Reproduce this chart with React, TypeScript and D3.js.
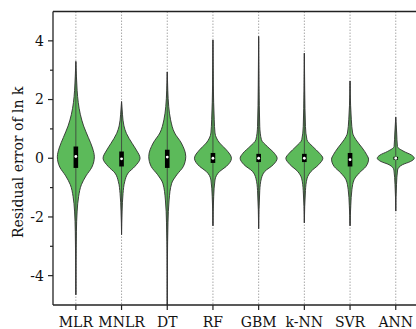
import React from "react";
import * as d3 from "d3";

const categories = ["MLR", "MNLR", "DT", "RF", "GBM", "k-NN", "SVR", "ANN"];
const yTicks = [-4, -2, 0, 2, 4];
const yMinorTicks = [-3, -1, 1, 3];

// Violin profiles: [residual value, relative density (0..1)]
const profileMLR = [[3.3,0],[2.8,0.03],[2.3,0.07],[1.9,0.13],[1.5,0.24],[1.1,0.42],[0.7,0.68],[0.35,0.9],[0.05,1],[-0.3,0.87],[-0.6,0.55],[-0.9,0.3],[-1.3,0.15],[-1.8,0.07],[-2.5,0.03],[-3.5,0.01],[-4.65,0]];
const profileMNLR = [[1.93,0],[1.5,0.05],[1.1,0.13],[0.85,0.26],[0.5,0.58],[0.28,0.8],[0,1],[-0.28,0.72],[-0.5,0.36],[-0.8,0.17],[-1.2,0.08],[-1.8,0.03],[-2.6,0]];
const profileDT = [[2.94,0],[2.3,0.03],[1.76,0.08],[1.31,0.18],[0.86,0.4],[0.52,0.76],[0.06,1],[-0.28,0.87],[-0.56,0.52],[-0.85,0.24],[-1.42,0.1],[-2.2,0.04],[-3.5,0.01],[-5,0]];
const profileRF = [[4.03,0],[2.5,0.02],[1.31,0.07],[0.86,0.11],[0.52,0.36],[0.29,0.72],[0,1],[-0.28,0.72],[-0.45,0.36],[-0.74,0.11],[-1.3,0.04],[-2.3,0]];
const profileGBM = [[4.15,0],[2.5,0.02],[1.08,0.06],[0.63,0.15],[0.4,0.47],[0.17,0.85],[0,1],[-0.22,0.79],[-0.45,0.33],[-0.68,0.15],[-1.1,0.06],[-2.4,0]];
const profileKNN = [[3.58,0],[2.3,0.02],[1.08,0.06],[0.63,0.14],[0.4,0.45],[0.17,0.82],[0,1],[-0.22,0.77],[-0.45,0.36],[-0.68,0.15],[-1.1,0.06],[-2.2,0]];
const profileSVR = [[2.63,0],[1.8,0.03],[1.31,0.07],[0.86,0.14],[0.63,0.32],[0.35,0.66],[0.12,0.9],[-0.03,1],[-0.28,0.86],[-0.5,0.5],[-0.73,0.22],[-1.07,0.1],[-1.6,0.04],[-2.3,0]];
const profileANN = [[1.4,0],[0.86,0.05],[0.4,0.09],[0.23,0.45],[0.11,0.85],[0,1],[-0.11,0.8],[-0.22,0.36],[-0.4,0.1],[-0.9,0.04],[-1.8,0]];
const profiles = [profileMLR, profileMNLR, profileDT, profileRF, profileGBM, profileKNN, profileSVR, profileANN];

const q3Values = [0.4, 0.23, 0.29, 0.18, 0.15, 0.15, 0.18, 0.05];
const medianValues = [0.06, -0.02, 0.04, 0.0, 0.0, 0.0, -0.05, 0.0];
const q1Values = [-0.33, -0.28, -0.33, -0.16, -0.13, -0.13, -0.28, -0.05];

const W = 416, H = 329;
const left = 53, top = 11.5, bottom = 305;
const step = 45.7;

export default function App() {
  const x = d3.scaleBand().domain(categories).range([left, left + step * categories.length]).padding(0);
  const y = d3.scaleLinear().domain([-5, 5]).range([bottom, top]);
  const w = d3.scaleLinear().domain([0, 1]).range([0, 18.5]);
  const font = "'DejaVu Serif', serif";
  const fill = "#5cba5a";
  const stroke = "#2f2f2f";

  return (
    <svg width={W} height={H} style={{ position: "absolute", left: 0, top: 0 }} fontFamily={font}>
      <defs>
        <clipPath id="plot">
          <rect x={left} y={top} width={W - left} height={bottom - top} />
        </clipPath>
      </defs>
      {/* dotted grid lines */}
      {categories.map((c) => {
        const cx = x(c)! + x.bandwidth() / 2;
        return <line key={"g" + c} x1={cx} x2={cx} y1={top} y2={bottom} stroke="#a8a8a8" strokeWidth={1} strokeDasharray="1.5,1.5" />;
      })}
      <g clipPath="url(#plot)">
        {categories.map((c, i) => {
          const cx = x(c)! + x.bandwidth() / 2;
          const prof = profiles[i];
          const area = d3.area<number[]>()
            .y((d) => y(d[0]))
            .x0((d) => cx - w(d[1]))
            .x1((d) => cx + w(d[1]))
            .curve(d3.curveMonotoneY);
          const vmax = prof[0][0];
          const vmin = prof[prof.length - 1][0];
          return (
            <g key={c}>
              <path d={area(prof) || ""} fill={fill} stroke={stroke} strokeWidth={0.9} />
              <line x1={cx} x2={cx} y1={y(vmax)} y2={y(vmin)} stroke="#3a3a3a" strokeWidth={0.8} />
              <rect x={cx - 2.3} width={4.6} y={y(q3Values[i])} height={y(q1Values[i]) - y(q3Values[i])} fill="#000" />
              <circle cx={cx} cy={y(medianValues[i])} r={1.4} fill="#fff" />
            </g>
          );
        })}
      </g>
      {/* axes frame */}
      <line x1={left} x2={left} y1={top} y2={bottom} stroke="#222" strokeWidth={1.3} />
      <line x1={left} x2={W} y1={top} y2={top} stroke="#222" strokeWidth={1.3} />
      <line x1={left} x2={W} y1={bottom} y2={bottom} stroke="#222" strokeWidth={1.3} />
      {yTicks.map((t) => (
        <g key={"yt" + t}>
          <line x1={left - 5} x2={left} y1={y(t)} y2={y(t)} stroke="#222" strokeWidth={1.2} />
          <text x={left - 9} y={y(t)} dy="0.35em" textAnchor="end" fontSize={14} fill="#111">{t}</text>
        </g>
      ))}
      {yMinorTicks.map((t) => (
        <line key={"ym" + t} x1={left - 3} x2={left} y1={y(t)} y2={y(t)} stroke="#222" strokeWidth={1.2} />
      ))}
      {categories.map((c) => {
        const cx = x(c)! + x.bandwidth() / 2;
        return (
          <g key={"xt" + c}>
            <line x1={cx} x2={cx} y1={bottom} y2={bottom + 5} stroke="#222" strokeWidth={1.2} />
            <text x={cx} y={326.5} textAnchor="middle" fontSize={14} fill="#111">{c}</text>
          </g>
        );
      })}
      <text transform={`translate(23,${(top + bottom) / 2 + 4}) rotate(-90)`} textAnchor="middle" fontSize={14} fill="#111">Residual error of ln k</text>
    </svg>
  );
}
